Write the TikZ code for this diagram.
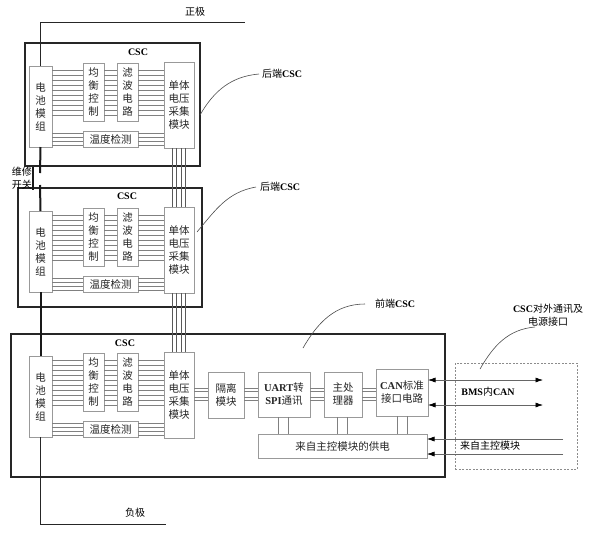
\documentclass[tikz,border=0pt]{standalone}
\usepackage{fontspec}
\setmainfont{Noto Sans CJK SC}
\newfontfamily\tms{Liberation Serif}
\usetikzlibrary{arrows.meta}
\newcommand\lat[1]{{\tms\bfseries #1}}
\newcommand\bx[6]{%
  \node[blk,anchor=north west,minimum width={((#4)-(#2))*1pt},minimum height={((#5)-(#3))*1pt}] (#1) at (#2,#3) {#6};}
\newcommand\obx[5]{%
  \node[outerbox,anchor=north west,minimum width={((#4)-(#2))*1pt},minimum height={((#5)-(#3))*1pt}] (#1) at (#2,#3) {};}
\newcommand\cscmod[2]{%
  \bx{#1bat}{29}{#2+3}{52}{#2+84}{电\\池\\模\\组}
  \bx{#1bal}{83}{#2}{104}{#2+58}{均\\衡\\控\\制}
  \bx{#1flt}{117}{#2}{138}{#2+58}{滤\\波\\电\\路}
  \bx{#1cv}{164}{#2-1}{194}{#2+85}{单体\\电压\\采集\\模块}
  \bx{#1tmp}{83}{#2+68}{138}{#2+84}{温度检测}
  \foreach \k [evaluate=\k as \yy using #2+7+5*\k] in {0,...,9}{
    \draw[sig] (#1bat.east |- 0,\yy) -- (#1bal.west |- 0,\yy);
    \draw[sig] (#1bal.east |- 0,\yy) -- (#1flt.west |- 0,\yy);
    \draw[sig] (#1flt.east |- 0,\yy) -- (#1cv.west |- 0,\yy);
  }
  \foreach \k [evaluate=\k as \yy using #2+70+4*\k] in {0,...,3}{
    \draw[sig] (#1bat.east |- 0,\yy) -- (#1tmp.west |- 0,\yy);
    \draw[sig] (#1tmp.east |- 0,\yy) -- (#1cv.west |- 0,\yy);
  }
}
\begin{document}
\begin{tikzpicture}[x=1pt,y=-1pt,
  outerbox/.style={draw=black!85,line width=1.3pt,inner sep=0pt,outer sep=0pt},
  blk/.style={draw=black!40,line width=0.6pt,fill=white,inner sep=0pt,outer sep=0pt,align=center,font=\fontsize{10.5}{13}\selectfont,text=black!85},
  sig/.style={draw=black!50,line width=0.5pt},
  pwr/.style={line width=2pt,draw=black!90},
  lbl/.style={font=\fontsize{10}{13}\selectfont,inner sep=0pt,align=center},
  ptr/.style={draw=black!70,line width=0.6pt},
  tip/.tip={Latex[length=7.5pt,width=5pt,color=black]},
  arr/.style={draw=black!60,line width=0.6pt,-tip},
  darr/.style={draw=black!60,line width=0.6pt,tip-tip}]
\useasboundingbox (0,0) rectangle (593,547);
\fill[white] (0,0) rectangle (593,547);

% outer boxes
\obx{m1box}{25}{43}{200}{166}
\obx{m2box}{18}{188}{202}{307}
\obx{m3box}{11}{334}{445}{477}
\node[lbl] (csc1) at (138,52) {\lat{CSC}};
\node[lbl] (csc2) at (127,196) {\lat{CSC}};
\node[lbl] (csc3) at (125,343) {\lat{CSC}};

% modules
\cscmod{a}{63}
\cscmod{b}{208}
\cscmod{c}{353}

% cell-voltage bus between modules
\foreach \xx in {172,176,181,185}{
  \draw[sig,draw=black!65] (\xx,0 |- acv.south) -- (\xx,0 |- bcv.north);
  \draw[sig,draw=black!65] (\xx,0 |- bcv.south) -- (\xx,0 |- ccv.north);
}

% front-end chain
\bx{iso}{208}{372}{244}{418}{隔离\\模块}
\bx{uart}{258}{372}{310}{417}{\lat{UART}转\\\lat{SPI}通讯}
\bx{cpu}{324}{372}{362}{417}{主处\\理器}
\bx{can}{376}{369}{428}{416}{\lat{CAN}标准\\接口电路}
\bx{sup}{258}{434}{427}{458}{来自主控模块的供电}
\foreach \yy in {388,391,397,400}{
  \draw[sig] (ccv.east |- 0,\yy) -- (iso.west |- 0,\yy);
  \draw[sig] (iso.east |- 0,\yy) -- (uart.west |- 0,\yy);
  \draw[sig] (uart.east |- 0,\yy) -- (cpu.west |- 0,\yy);
  \draw[sig] (cpu.east |- 0,\yy) -- (can.west |- 0,\yy);
}
\foreach \xx in {278,288}{\draw[sig] (\xx,0 |- uart.south) -- (\xx,0 |- sup.north);}
\foreach \xx in {337,347}{\draw[sig] (\xx,0 |- cpu.south) -- (\xx,0 |- sup.north);}
\foreach \xx in {397,407}{\draw[sig] (\xx,0 |- can.south) -- (\xx,0 |- sup.north);}

% external interface
\node[draw=black!45,dashed,dash pattern=on 2pt off 1.5pt,line width=0.6pt,anchor=north west,minimum width=122pt,minimum height=106pt,inner sep=0pt] (ext) at (455,363) {};
\coordinate (e1) at (543,380);
\coordinate (e2) at (543,405);
\coordinate (s1) at (563,439);
\coordinate (s2) at (563,454);
\draw[darr] (can.east |- e1) -- (e1);
\draw[darr] (can.east |- e2) -- (e2);
\draw[arr] (s1) -- (sup.east |- s1);
\draw[arr] (s2) -- (sup.east |- s2);
\node[lbl] (bmscan) at (488,392) {\lat{BMS}内\lat{CAN}};
\node[lbl] (frommc) at (490,446) {来自主控模块};

% power path
\coordinate (pp) at (245,22);
\node[lbl] (pos) at (195,12) {正极};
\draw[line width=1pt,draw=black!85] (abat.north) |- (pp);
\coordinate (sw1) at (40,173);
\coordinate (sw2a) at (33,167);
\coordinate (sw2b) at (33,190);
\coordinate (sw3) at (40,185);
\draw[pwr] (abat.south) -- (sw1);
\draw[pwr] (sw2a) -- (sw2b);
\draw[pwr] (sw3) -- (bbat.north);
\node[lbl,anchor=east] (swl) at (32,178.5) {维修\\开关};
\draw[pwr] (bbat.south) -- (cbat.north);
\coordinate (nn) at (166,524);
\draw[line width=1pt,draw=black!85] (cbat.south) |- (nn);
\node[lbl] (neg) at (135,513) {负极};

% callouts
\node[lbl,anchor=west] (lab1) at (262,74) {后端\lat{CSC}};
\node[lbl,anchor=west] (lab2) at (260,187) {后端\lat{CSC}};
\node[lbl,anchor=west] (lab3) at (375,304) {前端\lat{CSC}};
\node[lbl] (lab4) at (548,315) {\lat{CSC}对外通讯及\\电源接口};
\coordinate (c1) at (200,115);
\coordinate (c2) at (197,232);
\coordinate (c3) at (303,348);
\coordinate (c4) at (480,369);
\coordinate (c4e) at (535,327);
\draw[ptr] (c1) to[out=60,in=185] ([xshift=-3pt]lab1.west);
\draw[ptr] (c2) to[out=50,in=190] ([xshift=-4pt]lab2.west);
\draw[ptr] (c3) to[out=60,in=180] ([xshift=-10pt]lab3.west);
\draw[ptr] (c4) to[out=60,in=185] (c4e);
\end{tikzpicture}
\end{document}
